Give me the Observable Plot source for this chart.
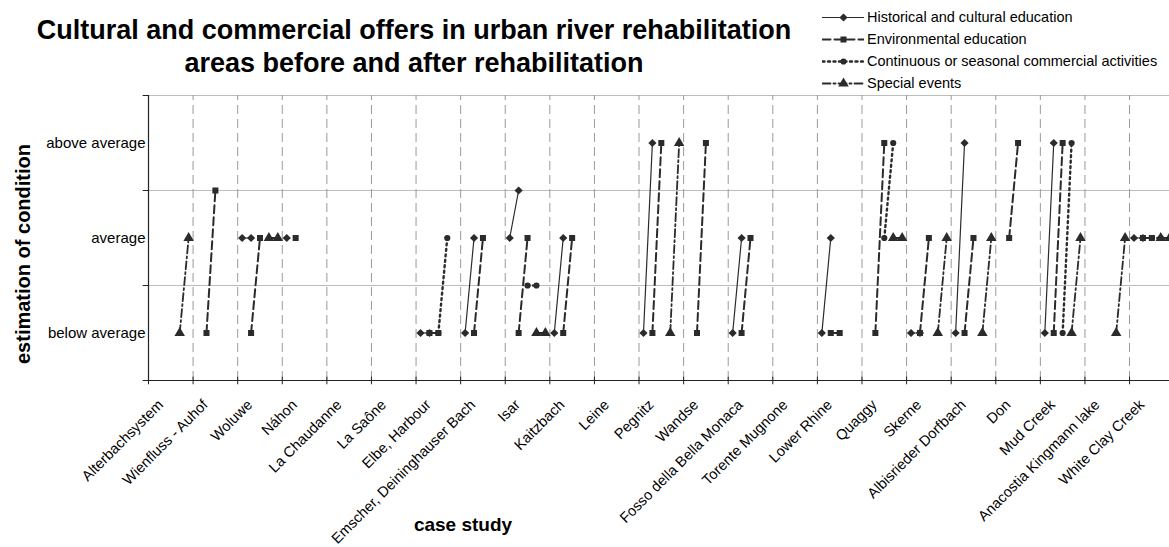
<!DOCTYPE html>
<html><head><meta charset="utf-8">
<script src="https://cdn.jsdelivr.net/npm/d3@7"></script>
<script src="https://cdn.jsdelivr.net/npm/@observablehq/plot@0.6"></script>
<style>
html,body{margin:0;padding:0;background:#fff;overflow:hidden;}
#wrap{position:relative;width:1169px;height:547px;font-family:"Liberation Sans",Arial,sans-serif;color:#000;}
#title{position:absolute;left:0;width:828px;top:14px;text-align:center;font-weight:bold;font-size:27px;line-height:33px;white-space:nowrap;}
#legend{position:absolute;left:822px;top:6px;white-space:nowrap;}
</style></head><body>
<div id="wrap"><div id="chart"></div>
<div id="title">Cultural and commercial offers in urban river rehabilitation<br>areas before and after rehabilitation</div>
<div id="legend"></div></div>
<script>
const cases = ["Alterbachsystem","Wienfluss - Auhof","Woluwe","Náhon","La Chaudanne","La Saône","Elbe, Harbour","Emscher, Deininghauser Bach","Isar","Kaitzbach","Leine","Pegnitz","Wandse","Fosso della Bella Monaca","Torente Mugnone","Lower Rhine","Quaggy","Skerne","Albisrieder Dorfbach","Don","Mud Creek","Anacostia Kingmann lake","White Clay Creek"];
const seriesNames = ["Historical and cultural education","Environmental education","Continuous or seasonal commercial activities","Special events"];
const levelTicks = [0.5, 1.5, 2.5];
const levelLabels = ["below average", "average", "above average"];
// values per case study: 0.5 = below average, 1.5 = average, 2.5 = above average (1 and 2 in between)
const histBefore  = [null,null,1.5,1.5,null,null,0.5,0.5,1.5,0.5,null,0.5,null,0.5,null,0.5,null,0.5,0.5,null,0.5,null,1.5];
const histAfter   = [null,null,1.5,null,null,null,0.5,1.5,2.0,1.5,null,2.5,null,1.5,null,1.5,null,0.5,2.5,null,2.5,null,1.5];
const envBefore   = [null,0.5,0.5,1.5,null,null,0.5,0.5,0.5,0.5,null,0.5,0.5,0.5,null,0.5,0.5,0.5,0.5,1.5,0.5,null,1.5];
const envAfter    = [null,2.0,1.5,null,null,null,0.5,1.5,1.5,1.5,null,2.5,2.5,1.5,null,0.5,2.5,1.5,1.5,2.5,2.5,null,1.5];
const commBefore  = [null,null,null,null,null,null,0.5,null,1.0,null,null,null,null,null,null,null,1.5,null,null,null,0.5,null,1.5];
const commAfter   = [null,null,null,null,null,null,1.5,null,1.0,null,null,null,null,null,null,null,2.5,null,null,null,2.5,null,1.5];
const eventBefore = [0.5,null,1.5,null,null,null,null,null,0.5,null,null,0.5,null,null,null,null,1.5,0.5,0.5,null,0.5,0.5,1.5];
const eventAfter  = [1.5,null,1.5,null,null,null,null,null,0.5,null,null,2.5,null,null,null,null,1.5,1.5,1.5,null,1.5,1.5,1.5];

const ink = "#2b2b2b";
const styles = [
  {before: histBefore, after: histAfter, symbol: "diamond2", r: 3.7, width: 1.2, dash: null},
  {before: envBefore, after: envAfter, symbol: "square", r: 3.4, width: 2, dash: "8,4"},
  {before: commBefore, after: commAfter, symbol: "circle", r: 3.1, width: 2.4, dash: "2,3.5"},
  {before: eventBefore, after: eventAfter, symbol: "triangle", r: 3.9, width: 1.8, dash: "8,3,2,3"}
];
const slots = 5;
const n = cases.length;
function rowsFor(k) {
  const s = styles[k], rows = [];
  cases.forEach((c, b) => {
    rows.push({x: slots * b + k + 0.5, y: s.before[b]});
    rows.push({x: slots * b + k + 1.5, y: s.after[b]});
    rows.push({x: slots * b + k + 2, y: null});
  });
  return rows;
}
const marks = [
  Plot.ruleY([1, 2, 3], {stroke: "#bdbdbd", strokeWidth: 1}),
  Plot.ruleX(d3.range(slots, slots * (n + 1), slots), {y1: 0, y2: 3, stroke: "#9a9a9a", strokeDasharray: "9,5"}),
  Plot.ruleX([0], {y1: 0, y2: 3, stroke: "#222", strokeWidth: 1.2}),
  Plot.ruleY([0], {stroke: "#222", strokeWidth: 1.2}),
  Plot.ruleY([0, 1, 2, 3], {x1: -0.6, x2: 0, stroke: "#222"}),
  Plot.ruleX(d3.range(0, slots * (n + 1), slots), {y1: -0.045, y2: 0.035, stroke: "#222"}),
  Plot.axisY({ticks: levelTicks, tickFormat: (d) => levelLabels[levelTicks.indexOf(d)], tickSize: 0, tickPadding: 3, fontSize: 15, label: null, fill: "#000"}),
  Plot.text(cases, {x: (d, i) => slots * i + slots / 2, y: () => -0.23, text: (d) => d, rotate: -45, textAnchor: "end", fontSize: 14.6, dx: -10, fill: "#000"}),
  Plot.text(["estimation of condition"], {frameAnchor: "left", textAnchor: "middle", dx: -125, dy: 16, rotate: -90, text: (d) => d, fontWeight: "bold", fontSize: 20, fill: "#000"}),
  Plot.text(["case study"], {frameAnchor: "bottom", textAnchor: "middle", dx: -196, dy: 150, text: (d) => d, fontWeight: "bold", fontSize: 19, fill: "#000"})
];
styles.forEach((s, k) => {
  const rows = rowsFor(k);
  marks.push(Plot.line(rows, {x: "x", y: "y", stroke: ink, strokeWidth: s.width, strokeDasharray: s.dash, curve: "linear"}));
  marks.push(Plot.dot(rows.filter((d) => d.y != null), {x: "x", y: "y", symbol: s.symbol, r: s.r, fill: ink, stroke: "none"}));
});
const chart = Plot.plot({
  width: 1169, height: 547,
  marginLeft: 148, marginRight: 0, marginTop: 95, marginBottom: 167,
  style: {fontFamily: "Liberation Sans, Arial, sans-serif", fontSize: "15px", color: "#000", background: "#fff"},
  x: {domain: [0, 114.48], axis: null},
  y: {domain: [0, 3], axis: null},
  marks
});
document.getElementById("chart").appendChild(chart);

// legend
const lg = document.getElementById("legend");
seriesNames.forEach((name, k) => {
  const s = styles[k];
  const row = document.createElement("div");
  row.style.cssText = "display:flex;align-items:center;height:22px;font-size:14.5px;";
  const leg = Plot.plot({
    width: 42, height: 22, margin: 0,
    x: {domain: [0, 2], axis: null}, y: {domain: [0, 2], axis: null},
    marks: [
      Plot.line([{x: 0, y: 1}, {x: 2, y: 1}], {x: "x", y: "y", stroke: ink, strokeWidth: s.width, strokeDasharray: s.dash}),
      Plot.dot([{x: 1, y: 1}], {x: "x", y: "y", symbol: s.symbol, r: s.r, fill: ink, stroke: "none"})
    ]
  });
  leg.style.marginRight = "3px";
  row.appendChild(leg);
  const t = document.createElement("span");
  t.textContent = name;
  row.appendChild(t);
  lg.appendChild(row);
});
</script>
</body></html>
